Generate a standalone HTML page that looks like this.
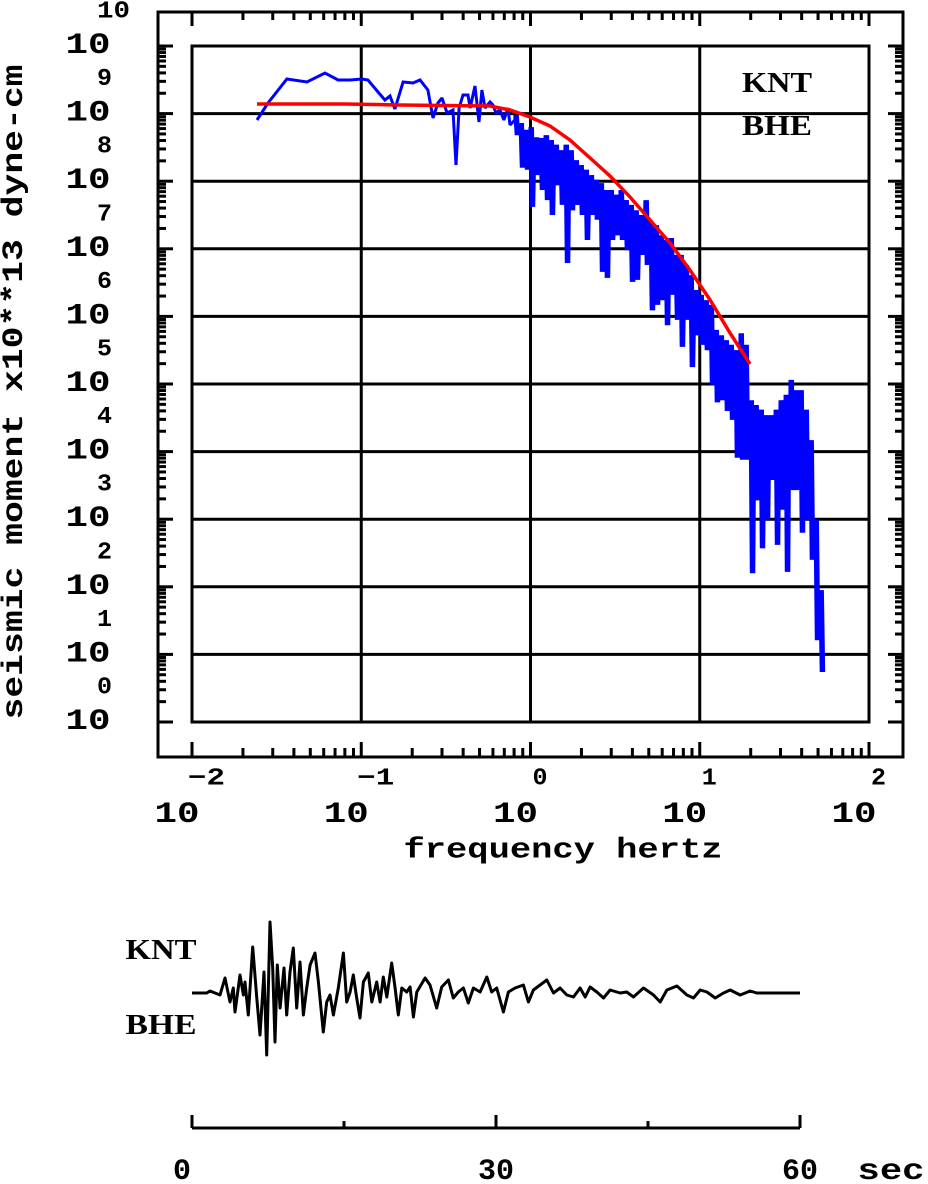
<!DOCTYPE html>
<html><head><meta charset="utf-8"><style>
html,body{margin:0;padding:0;background:#fff;}
svg{display:block;}
text{font-family:"Liberation Mono",monospace;font-weight:bold;fill:#000;}
.serif{font-family:"Liberation Serif",serif;font-weight:bold;}
</style></head><body>
<svg id="chart" width="928" height="1184" viewBox="0 0 928 1184" xmlns="http://www.w3.org/2000/svg">
<g id="axes"></g>
<g id="series"></g>
<g id="labels">
<text x="15" y="392" font-size="30" text-anchor="middle" textLength="655" lengthAdjust="spacingAndGlyphs" transform="rotate(-90 15 392)" dominant-baseline="central">seismic moment x10**13 dyne-cm</text>
<text x="563" y="850" font-size="29" text-anchor="middle" textLength="319" lengthAdjust="spacingAndGlyphs" dominant-baseline="central">frequency  hertz</text>
<text x="777" y="83" font-size="29" class="serif" text-anchor="middle" textLength="70" lengthAdjust="spacingAndGlyphs" dominant-baseline="central">KNT</text>
<text x="777" y="126" font-size="29" class="serif" text-anchor="middle" textLength="70" lengthAdjust="spacingAndGlyphs" dominant-baseline="central">BHE</text>
<text x="161" y="950" font-size="29" class="serif" text-anchor="middle" textLength="71" lengthAdjust="spacingAndGlyphs" dominant-baseline="central">KNT</text>
<text x="161" y="1025" font-size="29" class="serif" text-anchor="middle" textLength="71" lengthAdjust="spacingAndGlyphs" dominant-baseline="central">BHE</text>
<text x="891" y="1172" font-size="30" text-anchor="middle" textLength="67" lengthAdjust="spacingAndGlyphs" dominant-baseline="central">sec</text>
</g>
</svg>
<script>
// ---- spectrum data (log10 frequency Hz, log10 moment) ----
const lowF = [-1.616,-1.551,-1.439,-1.321,-1.214,-1.137,-1.066,-0.996,-0.960,-0.901,-0.860,-0.830,-0.801,-0.753,-0.694,-0.653,-0.606,-0.576,-0.547,-0.523,-0.493,-0.458,-0.440,-0.422,-0.399,-0.369,-0.357,-0.328,-0.304,-0.287,-0.269,-0.239,-0.222,-0.204,-0.180,-0.157,-0.133,-0.121,-0.092];
const lowA = [8.905,9.157,9.512,9.467,9.601,9.497,9.497,9.512,9.497,9.320,9.201,9.260,9.068,9.467,9.453,9.497,9.349,8.935,9.157,9.231,9.009,9.053,8.240,9.083,9.275,9.275,9.083,9.408,8.876,9.349,9.083,9.172,9.127,9.009,9.053,8.905,9.083,8.831,8.905];
const bandF = [-0.092,-0.062,-0.032,-0.003,0.027,0.056,0.086,0.115,0.145,0.174,0.204,0.233,0.263,0.292,0.322,0.352,0.381,0.411,0.440,0.470,0.499,0.529,0.558,0.588,0.617,0.647,0.676,0.706,0.736,0.765,0.795,0.824,0.854,0.883,0.913,0.942,0.972,1.001,1.031,1.061,1.090,1.120,1.149,1.179,1.208,1.238,1.267,1.297,1.326,1.356,1.386,1.415,1.445,1.474,1.504,1.533,1.563,1.592,1.622,1.651,1.681,1.710];
const bandHi = [8.98,8.86,8.76,8.80,8.65,8.64,8.68,8.61,8.54,8.46,8.54,8.46,8.31,8.24,8.17,8.09,8.02,7.97,7.87,7.87,7.80,7.87,7.72,7.65,7.57,7.50,7.72,7.40,7.35,7.20,7.13,7.16,6.91,6.91,6.76,6.61,6.39,6.32,6.24,6.17,5.80,5.72,5.65,5.58,5.50,5.75,5.58,4.76,4.69,4.62,4.54,4.54,4.62,4.76,4.84,5.06,4.91,4.91,4.62,4.17,2.99,1.95];
const bandLo = [8.68,8.20,8.17,7.62,8.09,7.87,7.72,7.50,7.94,7.65,6.79,7.57,7.65,7.50,7.13,7.50,7.43,6.66,6.57,7.13,7.20,7.13,6.98,6.51,6.54,6.91,6.76,6.09,6.17,6.24,5.87,6.32,5.95,5.55,5.95,5.25,5.72,5.58,5.50,4.99,4.73,4.76,4.60,4.47,3.91,3.88,3.88,2.20,3.28,2.57,2.99,3.58,2.62,3.14,2.22,3.43,3.43,2.80,2.99,2.40,1.21,0.74];
const fitF = [-1.616,-1.096,-0.771,-0.239,-0.121,-0.003,0.115,0.233,0.352,0.470,0.588,0.706,0.824,0.942,1.061,1.179,1.297];
const fitA = [9.142,9.142,9.127,9.112,9.053,8.950,8.817,8.609,8.343,8.077,7.766,7.426,7.086,6.686,6.243,5.754,5.296];
const xTickExp = ["−2","−1","0","1","2"];
const yTickExp = ["0","1","2","3","4","5","6","7","8","9","10"];
// ---- seismogram data (seconds, amplitude counts) ----
const traceT = [0,1.45,1.78,2.76,3.26,3.75,4.08,4.24,4.74,5.07,5.23,5.56,5.99,6.38,6.71,7.11,7.37,7.70,7.96,8.19,8.42,8.69,9.08,9.35,9.67,10.0,10.33,10.66,10.99,11.32,11.65,12.14,12.47,12.96,13.29,13.62,13.95,14.44,14.94,15.27,15.6,15.92,16.25,16.58,16.91,17.4,17.74,18.23,18.56,18.88,19.22,19.71,20.04,20.36,20.7,21.19,21.52,21.85,22.18,23.0,23.49,24.15,24.64,25.3,25.79,26.28,26.78,27.27,27.77,28.43,29.09,29.58,30.07,30.73,31.22,31.88,32.7,33.2,33.69,35.01,35.67,36.33,36.99,37.65,38.3,38.8,39.29,39.95,40.61,41.26,42.25,42.9,43.57,44.56,45.54,46.2,46.87,47.85,48.84,49.49,50.15,50.81,51.63,52.45,53.11,54.1,55.08,55.74,60];
const traceA = [0,0,2,-2,15,-9,5,-19,18,-2,11,-22,46,-4,-42,21,-62,71,25,-49,28,-15,25,-22,21,45,-15,31,-22,5,28,40,11,-39,-9,-2,-22,5,40,-9,1,18,-5,-25,11,20,-9,11,-9,16,-4,30,5,-22,5,1,6,-24,1,15,8,-15,6,13,-5,1,5,-10,5,1,16,1,5,-19,1,5,8,-9,3,13,0,5,-2,-4,5,-4,6,1,-5,3,0,1,-4,5,-2,-9,3,7,-2,-5,3,1,-5,0,3,-2,2,0,0];
const timeTicks = [0,15,30,45,60];
const timeLabels = ["0","30","60"];
const timeLabelVals = [0,30,60];

const NS="http://www.w3.org/2000/svg";
const X0=192, DEC_X=169.25, Y0=722, DEC_Y=67.6;
const xs = lf => X0 + (lf+2)*DEC_X;
const ys = la => Y0 - la*DEC_Y;
const T0=192, TPX=608/60, BASE=993;
const tx = t => T0 + t*TPX;
const ty = a => BASE - a;
function mk(tag, attrs, parent){const e=document.createElementNS(NS,tag);for(const k in attrs)e.setAttribute(k,attrs[k]);parent.appendChild(e);return e;}
const axes=document.getElementById('axes'), series=document.getElementById('series'), labels=document.getElementById('labels');
function line(x1,y1,x2,y2,w,parent,name){const l=mk('line',{x1:x1,y1:y1,x2:x2,y2:y2,stroke:'#000','stroke-width':w},parent);


return l;}

const outer=mk('rect',{x:158,y:12,width:745,height:745,fill:'none',stroke:'#000','stroke-width':3},axes);


const inner=mk('rect',{x:192,y:46,width:677,height:676,fill:'none',stroke:'#000','stroke-width':3},axes);


for(let d=-1; d<=1; d++) line(xs(d),46,xs(d),722,3,axes,'grid-vertical');
for(let d=1; d<=9; d++) line(192,ys(d),869,ys(d),3,axes,'grid-horizontal');
for(let d=-2; d<=2; d++){
  line(xs(d),757,xs(d),742,3,axes,'x-major-tick');
  line(xs(d),12,xs(d),26,3,axes,'x-major-tick-top');
  if(d<2) for(let m=2;m<=9;m++){const x=xs(d+Math.log10(m));
    line(x,757,x,748,3,axes,'x-minor-tick');
    line(x,12,x,20,3,axes,'x-minor-tick-top');}
}
for(let d=0; d<=10; d++){
  line(158,ys(d),173,ys(d),3,axes,'y-major-tick');
  line(903,ys(d),888,ys(d),3,axes,'y-major-tick-right');
  if(d<10) for(let m=2;m<=9;m++){const y=ys(d+Math.log10(m));
    line(158,y,166,y,3,axes,'y-minor-tick');
    line(903,y,895,y,3,axes,'y-minor-tick-right');}
}
xTickExp.forEach((s,i)=>{const x=xs(i-2);
  const b=mk('text',{x:x-15,y:815,'font-size':30,'text-anchor':'middle','dominant-baseline':'central',textLength:45,lengthAdjust:'spacingAndGlyphs'},labels);b.textContent='10';
  
  
  const ea={x:x+(s.length>1?-4:2),y:779,'font-size':24,'dominant-baseline':'central',lengthAdjust:'spacingAndGlyphs'};
  ea.textLength = s.length>1?37:15;
  const e=mk('text',ea,labels);e.textContent=s;
  
  
});
yTickExp.forEach((s,i)=>{const y=ys(i);
  const b=mk('text',{x:88,y:y,'font-size':30,'text-anchor':'middle','dominant-baseline':'central',textLength:45,lengthAdjust:'spacingAndGlyphs'},labels);b.textContent='10';
  
  
  const e=mk('text',{x:97,y:y-34,'font-size':24,'dominant-baseline':'central',textLength:s.length>1?33:15,lengthAdjust:'spacingAndGlyphs'},labels);e.textContent=s;
  
  
});

let d='';
lowF.forEach((f,i)=>{d+=(i?'L':'M')+xs(f).toFixed(1)+' '+ys(lowA[i]).toFixed(1);});
bandF.forEach((f,i)=>{
  const x=xs(f), w=DEC_X*0.0295;
  d+='L'+x.toFixed(1)+' '+ys(bandHi[i]).toFixed(1);
  d+='L'+(x+w*0.25).toFixed(1)+' '+ys(bandLo[i]).toFixed(1);
  d+='L'+(x+w*0.5).toFixed(1)+' '+ys(bandHi[i]).toFixed(1);
  d+='L'+(x+w*0.75).toFixed(1)+' '+ys(bandLo[i]).toFixed(1);
});
const spec=mk('path',{d:d,fill:'none',stroke:'#0000ff','stroke-width':3,'stroke-linejoin':'miter','stroke-miterlimit':2},series);


let dr='';
fitF.forEach((f,i)=>{dr+=(i?'L':'M')+xs(f).toFixed(1)+' '+ys(fitA[i]).toFixed(1);});
const fit=mk('path',{d:dr,fill:'none',stroke:'#ff0000','stroke-width':3.5},series);



let dt='';
traceT.forEach((t,i)=>{dt+=(i?'L':'M')+tx(t).toFixed(1)+' '+ty(traceA[i]).toFixed(1);});
const tr=mk('path',{d:dt,fill:'none',stroke:'#000','stroke-width':3,'stroke-linejoin':'round'},series);


line(tx(0),1128,tx(60),1128,3,axes,'time-axis-line');
timeTicks.forEach((t,i)=>{line(tx(t),1128,tx(t),(i%2===0)?1115:1121,3,axes,'time-tick');});
timeLabels.forEach((s,i)=>{const t=mk('text',{x:tx(timeLabelVals[i])-(i===0?10:0),y:1172,'font-size':30,'text-anchor':'middle','dominant-baseline':'central',textLength:s.length*18,lengthAdjust:'spacingAndGlyphs'},labels);t.textContent=s;
  
  
});
</script>
</body></html>
